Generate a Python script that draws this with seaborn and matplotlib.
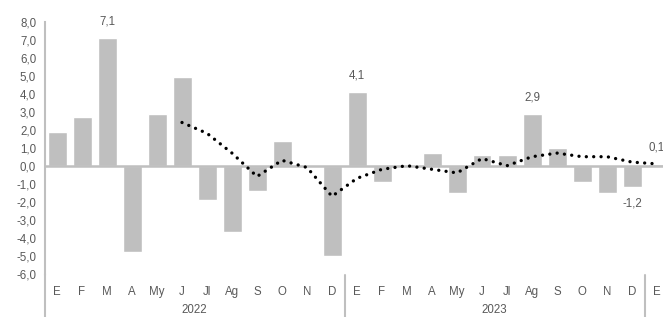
import numpy as np
import pandas as pd
import matplotlib
matplotlib.use("Agg")
import matplotlib.pyplot as plt
import seaborn as sns

# Monthly values (bars) and trend (dotted line)
months = ["E", "F", "M", "A", "My", "J", "Jl", "Ag", "S", "O", "N", "D"]
years = ["2022", "2023", "2024"]
values_2022 = [1.9, 2.7, 7.1, -4.8, 2.9, 4.9, -1.9, -3.7, -1.4, 1.4, 0.0, -5.0]
values_2023 = [4.1, -0.9, 0.0, 0.7, -1.5, 0.6, 0.6, 2.9, 1.0, -0.9, -1.5, -1.2]
values_2024 = [0.1]
# trend starts in June 2022
trend_start = "J 2022"
trend_values = [2.4, 1.8, 0.7, -0.6, 0.3, -0.1, -1.7,
                -0.7, -0.2, 0.0, -0.2, -0.4, 0.4, 0.0, 0.5, 0.7, 0.5, 0.5, 0.2,
                0.1]
labelled = ["M 2022", "E 2023", "Ag 2023", "D 2023", "E 2024"]

periods = ([f"{m} 2022" for m in months] + [f"{m} 2023" for m in months]
           + ["E 2024"])
month_labels = [p.split()[0] for p in periods]
df = pd.DataFrame({"period": periods,
                   "value": values_2022 + values_2023 + values_2024})

sns.set_style("white")
plt.rcParams["font.family"] = ["Liberation Sans", "DejaVu Sans"]
txt_color = "#595959"
axis_color = "#bfbfbf"
fs = 8.3

fig = plt.figure(figsize=(6.63, 3.17), dpi=100)
ax = fig.add_axes([44.5 / 663, 1 - 273.7 / 317, 625 / 663, 252 / 317])

sns.barplot(data=df, x="period", y="value", order=periods, color="#bfbfbf",
            saturation=1, width=0.76, ax=ax)

t0 = periods.index(trend_start)
trend_df = pd.DataFrame({"pos": np.arange(t0, t0 + len(trend_values)),
                         "trend": trend_values})
sns.lineplot(data=trend_df, x="pos", y="trend", color="black", ax=ax)
line = ax.lines[-1]
line.set_linewidth(2.4)
line.set_linestyle((0, (0.01, 2.2)))
line.set_dash_capstyle("round")
line.set_zorder(5)

ax.set_xlim(-0.5, len(periods) - 0.5)
ax.set_ylim(-6, 8)
ax.set_yticks(np.arange(-6, 9, 1))
ax.set_yticklabels([f"{v:.1f}".replace(".", ",") for v in np.arange(-6, 9, 1)])
ax.set_xticks(np.arange(len(periods)))
ax.set_xticklabels(month_labels)
ax.tick_params(axis="x", length=0, pad=9, labelsize=fs, labelcolor=txt_color)
ax.tick_params(axis="y", length=3, width=1, color=axis_color, direction="out",
               pad=3, labelsize=fs, labelcolor=txt_color)
ax.set_xlabel("")
ax.set_ylabel("")

for s in ["top", "right", "bottom"]:
    ax.spines[s].set_visible(False)
ax.spines["left"].set_color(axis_color)
ax.spines["left"].set_linewidth(1.5)

# zero line
ax.axhline(0, color=axis_color, lw=1.8, zorder=3)
# left axis continues under the category labels
ax.axvline(-0.5, ymin=-0.2, ymax=0, color=axis_color, lw=1.5, clip_on=False)
# year separators
for b in [11.5, 23.5]:
    ax.axvline(b, ymin=-0.2, ymax=-0.005, color=axis_color, lw=1.5,
               clip_on=False)

# year labels
trans = ax.get_xaxis_transform()
ax.text(5.5, -0.145, years[0], transform=trans, ha="center", va="center",
        fontsize=fs, color=txt_color)
ax.text(17.5, -0.145, years[1], transform=trans, ha="center", va="center",
        fontsize=fs, color=txt_color)

# data labels
for p in labelled:
    i = periods.index(p)
    v = df["value"][i]
    lab = f"{v:.1f}".replace(".", ",")
    if v >= 0:
        ax.text(i, v + 0.55, lab, ha="center", va="bottom", fontsize=fs,
                color=txt_color)
    else:
        ax.text(i, v - 0.55, lab, ha="center", va="top", fontsize=fs,
                color=txt_color)

fig.savefig("out.png", dpi=100)
